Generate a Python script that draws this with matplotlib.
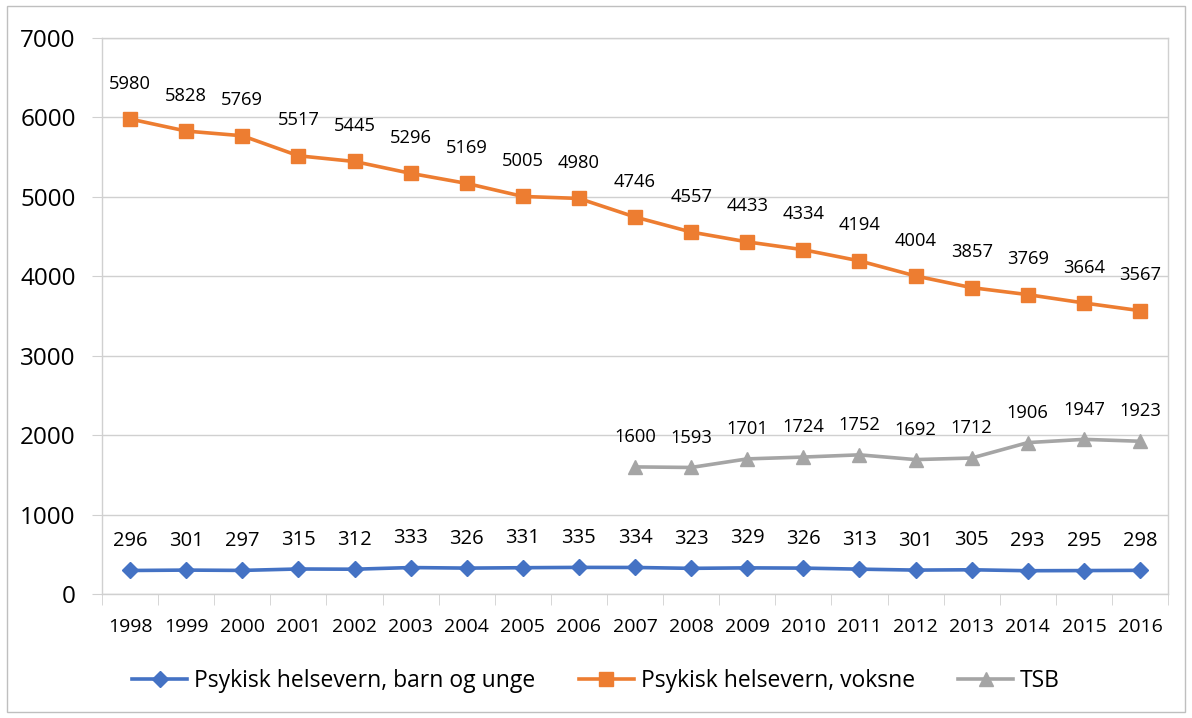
import numpy as np
import matplotlib
matplotlib.use("Agg")
from matplotlib import pyplot as plt
from matplotlib.patches import Rectangle

plt.rcParams["font.family"] = ["Open Sans", "DejaVu Sans"]

# Data
years = [str(y) for y in range(1998, 2017)]
barn_unge = [296, 301, 297, 315, 312, 333, 326, 331, 335, 334,
             323, 329, 326, 313, 301, 305, 293, 295, 298]
voksne = [5980, 5828, 5769, 5517, 5445, 5296, 5169, 5005, 4980, 4746,
          4557, 4433, 4334, 4194, 4004, 3857, 3769, 3664, 3567]
tsb_years = years[9:]
tsb = [1600, 1593, 1701, 1724, 1752, 1692, 1712, 1906, 1947, 1923]

BLUE = "#4472C4"
ORANGE = "#ED7D31"
GREY = "#A5A5A5"
GRID = "#D0D0D0"

fig = plt.figure(figsize=(11.92, 7.18), dpi=100)
ax = fig.add_axes([0.0856, 0.1727, 0.8943, 0.7744])

x_all = np.arange(len(years))
x_tsb = x_all[9:]

ax.plot(x_all, barn_unge, "-D", color=BLUE, lw=2.6, ms=8,
        label="Psykisk helsevern, barn og unge")
ax.plot(x_all, voksne, "-s", color=ORANGE, lw=2.6, ms=10,
        label="Psykisk helsevern, voksne")
ax.plot(x_tsb, tsb, "-^", color=GREY, lw=2.6, ms=10, label="TSB")

# Data labels
for xi, v in zip(x_all, barn_unge):
    ax.annotate(str(v), (xi, v), xytext=(0, 14), textcoords="offset points",
                ha="center", va="bottom", fontsize=14.5, color="black")
for xi, v in zip(x_all, voksne):
    ax.annotate(str(v), (xi, v), xytext=(0, 19), textcoords="offset points",
                ha="center", va="bottom", fontsize=13.2, color="black")
for xi, v in zip(x_tsb, tsb):
    ax.annotate(str(v), (xi, v), xytext=(0, 15), textcoords="offset points",
                ha="center", va="bottom", fontsize=13.2, color="black")

ax.set_xlim(-0.5, len(years) - 0.5)
ax.set_ylim(0, 7000)
ax.set_yticks(range(0, 7001, 1000))
ax.tick_params(axis="y", labelsize=17.5, length=7, color=GRID, pad=12)

ax.set_xticks(x_all)
ax.set_xticklabels(years)
ax.set_xticks(np.arange(-0.5, len(years)), minor=True)
ax.tick_params(axis="x", which="major", length=0, labelsize=14, pad=17)
ax.tick_params(axis="x", which="minor", length=8, color=GRID)

ax.grid(axis="y", color=GRID, lw=1)
ax.set_axisbelow(True)
for side in ["left", "right", "top", "bottom"]:
    ax.spines[side].set_color(GRID)
    ax.spines[side].set_linewidth(1)

leg = fig.legend(loc="center", bbox_to_anchor=(0.5, 0.052), ncol=3,
                 frameon=False, fontsize=16.5, handlelength=2.4,
                 columnspacing=1.9, handletextpad=0.3)

fig.patches.append(Rectangle((0.006, 0.008), 0.988, 0.983,
                             transform=fig.transFigure, fill=False,
                             edgecolor="#BFBFBF", lw=1))

fig.savefig("out.png", dpi=100)
